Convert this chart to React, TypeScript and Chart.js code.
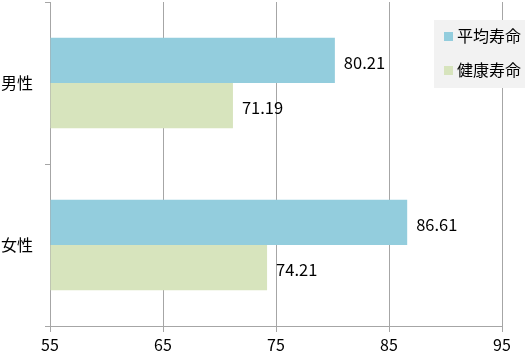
import { useEffect, useRef } from "react";
import { Chart, registerables } from "chart.js";

Chart.register(...registerables);

const categories = ["男性", "女性"];
const seriesNames = ["平均寿命", "健康寿命"];
const averageLife = [80.21, 86.61];
const healthyLife = [71.19, 74.21];
const xTicks = [55, 65, 75, 85, 95];
const colors = ["#93CDDD", "#D7E4BD"];

const FONT = "'Noto Sans CJK JP', 'Noto Sans', sans-serif";

const labelPlugin = {
  id: "valueLabels",
  afterDatasetsDraw(chart: any) {
    const ctx = chart.ctx;
    ctx.save();
    ctx.font = `16.5px ${FONT}`;
    ctx.fillStyle = "#000";
    ctx.textAlign = "left";
    ctx.textBaseline = "middle";
    chart.data.datasets.forEach((ds: any, i: number) => {
      const meta = chart.getDatasetMeta(i);
      meta.data.forEach((bar: any, j: number) => {
        ctx.fillText(ds.data[j].toFixed(2), bar.x + 9, bar.y + 2);
      });
    });
    ctx.restore();
  },
};

const legendPlugin = {
  id: "boxLegend",
  afterDraw(chart: any) {
    const ctx = chart.ctx;
    ctx.save();
    const x0 = 434, y0 = 20, w = 91, h = 68;
    ctx.fillStyle = "#F2F2F2";
    ctx.fillRect(x0, y0, w, h);
    ctx.font = `16px ${FONT}`;
    ctx.textBaseline = "middle";
    ctx.textAlign = "left";
    const rows = [36, 70];
    seriesNames.forEach((name, i) => {
      ctx.fillStyle = colors[i];
      ctx.fillRect(444, rows[i] - 4, 9, 9);
      ctx.fillStyle = "#000";
      ctx.fillText(name, 457, rows[i]);
    });
    ctx.restore();
  },
};

export default function App() {
  const ref = useRef<HTMLCanvasElement>(null);
  useEffect(() => {
    document.body.style.margin = "0";
    const chart = new Chart(ref.current!, {
      type: "bar",
      data: {
        labels: categories,
        datasets: [
          { label: seriesNames[0], data: averageLife, backgroundColor: colors[0], categoryPercentage: 0.56, barPercentage: 1.0, base: 55 },
          { label: seriesNames[1], data: healthyLife, backgroundColor: colors[1], categoryPercentage: 0.56, barPercentage: 1.0, base: 55 },
        ],
      },
      options: {
        indexAxis: "y",
        animation: false,
        responsive: false,
        maintainAspectRatio: false,
        layout: { padding: { top: 2, right: 30, left: 0, bottom: 0 } },
        plugins: { legend: { display: false }, tooltip: { enabled: false } },
        scales: {
          x: {
            min: 55,
            max: 95,
            afterBuildTicks: (s: any) => { s.ticks = xTicks.map((v) => ({ value: v })); },
            afterFit: (s: any) => { s.height = 30; s.paddingLeft = 0; s.paddingRight = 0; },
            ticks: { color: "#000", font: { size: 16, family: FONT }, padding: 3 },
            grid: { color: "#A6A6A6", tickLength: 6, lineWidth: 1 },
            border: { color: "#A6A6A6" },
          },
          y: {
            afterFit: (s: any) => { s.width = 50; s.paddingTop = 0; s.paddingBottom = 0; },
            ticks: { color: "#000", font: { size: 16, family: FONT }, padding: 12 },
            grid: { drawOnChartArea: false, color: "#A6A6A6", tickLength: 5, offset: true },
            border: { color: "#A6A6A6" },
          },
        },
      },
      plugins: [labelPlugin, legendPlugin],
    });
    return () => chart.destroy();
  }, []);
  return (
    <div style={{ width: 532, height: 356 }}>
      <canvas ref={ref} width={532} height={356} />
    </div>
  );
}
